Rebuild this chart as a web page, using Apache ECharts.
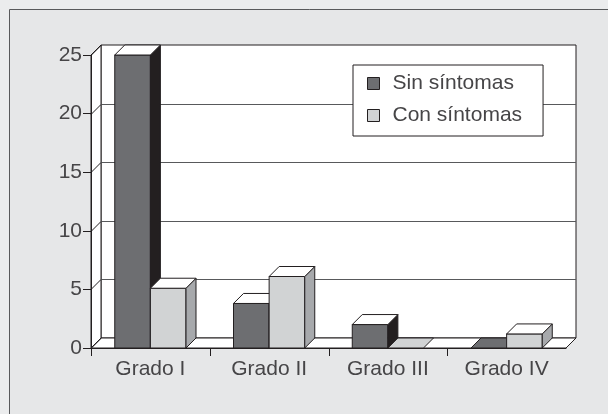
<!DOCTYPE html>
<html>
<head>
<meta charset="utf-8">
<script src="https://cdn.jsdelivr.net/npm/echarts@6/dist/echarts.min.js"></script>
<style>
html,body{margin:0;padding:0;background:#ebeced;}
#chart{width:608px;height:414px;}
</style>
</head>
<body>
<div id="chart"></div>
<script>
const categories = ['Grado I', 'Grado II', 'Grado III', 'Grado IV'];
const sinSintomas = [25, 3.8, 2, 0];
const conSintomas = [5.1, 6.1, 0, 1.2];
const yTicks = [0, 5, 10, 15, 20, 25];
const seriesNames = ['Sin síntomas', 'Con síntomas'];

const FONT = '"Liberation Sans", Arial, sans-serif';
const TEXT = '#464547';
const LINE = '#231f20';
const D = 10; // depth offset in px
const yMax = yTicks[yTicks.length - 1];

const styles = {
  sin: { front: '#6d6e71', side: '#231f20', top: '#ffffff' },
  con: { front: '#d1d3d4', side: '#a7a9ac', top: '#ffffff' }
};

function makeBar(offsetFactor, st) {
  return function (params, api) {
    const ci = api.value(0), v = api.value(1);
    const base = api.coord([ci, 0]);
    const topPt = api.coord([ci, v]);
    const bw = api.size([1, 0])[0];
    const w = bw * 0.3;
    const x0 = base[0] + offsetFactor * w;
    const y0 = base[1], y1 = topPt[1];
    const children = [];
    const s = { stroke: LINE, lineWidth: 1 };
    if (y0 - y1 > 0.5) {
      children.push({ type: 'rect', shape: { x: x0, y: y1, width: w, height: y0 - y1 }, style: Object.assign({ fill: st.front }, s) });
      children.push({ type: 'polygon', shape: { points: [[x0 + w, y1], [x0 + w + D, y1 - D], [x0 + w + D, y0 - D], [x0 + w, y0]] }, style: Object.assign({ fill: st.side }, s) });
      children.push({ type: 'polygon', shape: { points: [[x0, y1], [x0 + D, y1 - D], [x0 + w + D, y1 - D], [x0 + w, y1]] }, style: Object.assign({ fill: st.top }, s) });
    } else {
      children.push({ type: 'polygon', shape: { points: [[x0, y1], [x0 + D, y1 - D], [x0 + w + D, y1 - D], [x0 + w, y1]] }, style: Object.assign({ fill: st.front }, s) });
    }
    return { type: 'group', children: children };
  };
}

function renderWalls(params, api) {
  const bw = api.size([1, 0])[0];
  const n = categories.length;
  const L = api.coord([0, 0])[0] - bw / 2;
  const R = api.coord([n - 1, 0])[0] + bw / 2;
  const yb = api.coord([0, 0])[1];
  const yt = api.coord([0, yMax])[1];
  const s = { stroke: LINE, lineWidth: 1 };
  const ch = [];
  ch.push({ type: 'polygon', shape: { points: [[L + D, yt - D], [R + D, yt - D], [R + D, yb - D], [L + D, yb - D]] }, style: Object.assign({ fill: '#fff' }, s) });
  ch.push({ type: 'polygon', shape: { points: [[L, yt], [L + D, yt - D], [L + D, yb - D], [L, yb]] }, style: Object.assign({ fill: '#fff' }, s) });
  ch.push({ type: 'polygon', shape: { points: [[L, yb], [L + D, yb - D], [R + D, yb - D], [R, yb]] }, style: Object.assign({ fill: '#fff' }, s) });
  yTicks.forEach(function (t) {
    const y = Math.round(api.coord([0, t])[1]) + 0.5;
    if (t > 0 && t < yMax) {
      ch.push({ type: 'line', shape: { x1: L + D, y1: y - D, x2: R + D, y2: y - D }, style: { stroke: '#58595b', lineWidth: 1 } });
    }
    ch.push({ type: 'line', shape: { x1: L, y1: y, x2: L + D, y2: y - D }, style: { stroke: LINE, lineWidth: 1 } });
  });
  for (let i = 0; i < n; i++) {
    const x = Math.round(L + i * bw) + 0.5;
    ch.push({ type: 'line', shape: { x1: x, y1: yb, x2: x, y2: yb + 8 }, style: { stroke: LINE, lineWidth: 1 } });
  }
  return { type: 'group', children: ch };
}

const chart = echarts.init(document.getElementById('chart'), null, { renderer: 'canvas' });
chart.setOption({
  backgroundColor: '#ebeced',
  animation: false,
  graphic: {
    elements: [{
      type: 'rect', z: 0, silent: true,
      shape: { x: 9.5, y: 9.5, width: 640, height: 440 },
      style: { fill: '#e6e7e8', stroke: '#58595b', lineWidth: 1 }
    }]
  },
  grid: { left: 91, right: 42, top: 55, bottom: 66, containLabel: false },
  legend: {
    orient: 'vertical', left: 353, top: 65,
    backgroundColor: '#ffffff', borderColor: LINE, borderWidth: 1,
    padding: [8, 21, 10, 14],
    itemWidth: 12, itemHeight: 12, itemGap: 11, icon: 'rect',
    textStyle: { fontSize: 21, fontFamily: FONT, color: TEXT, lineHeight: 21, padding: [0, 0, 0, 8] },
    data: [
      { name: seriesNames[0], itemStyle: { color: styles.sin.front, borderColor: LINE, borderWidth: 1 } },
      { name: seriesNames[1], itemStyle: { color: styles.con.front, borderColor: LINE, borderWidth: 1 } }
    ],
    selectedMode: false
  },
  xAxis: {
    type: 'category', data: categories, boundaryGap: true,
    axisLine: { show: true, lineStyle: { color: LINE, width: 1 } },
    axisTick: { show: false },
    axisLabel: { margin: 11, fontSize: 21, fontFamily: FONT, color: TEXT },
    splitLine: { show: false }, z: 5
  },
  yAxis: {
    type: 'value', min: 0, max: yMax, interval: 5,
    axisLine: { show: true, lineStyle: { color: LINE, width: 1 } },
    axisTick: { show: true, length: 8, lineStyle: { color: LINE, width: 1 } },
    axisLabel: { margin: 9, fontSize: 21, fontFamily: FONT, color: TEXT },
    splitLine: { show: false }, z: 5
  },
  series: [
    { type: 'custom', name: 'walls', z: 1, silent: true, renderItem: renderWalls, data: [[0, 0]], clip: false },
    { type: 'custom', name: seriesNames[0], z: 3, renderItem: makeBar(-1, styles.sin), itemStyle: { color: styles.sin.front },
      data: categories.map(function (c, i) { return [i, sinSintomas[i]]; }) },
    { type: 'custom', name: seriesNames[1], z: 4, renderItem: makeBar(0, styles.con), itemStyle: { color: styles.con.front },
      data: categories.map(function (c, i) { return [i, conSintomas[i]]; }) }
  ]
});
</script>
</body>
</html>
